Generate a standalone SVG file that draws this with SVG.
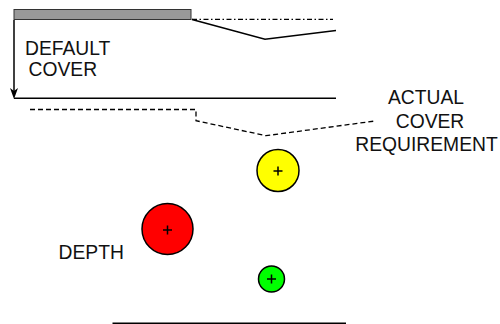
<svg xmlns="http://www.w3.org/2000/svg" width="500" height="324" viewBox="0 0 500 324">
<defs>
<style>
.t{font-family:"Liberation Sans",Arial,sans-serif;font-size:19.3px;fill:#111}
.ln{fill:none;stroke:#000;stroke-width:1.5}
.pipe{stroke:#000;stroke-width:1.5}
.plus{stroke:#000;stroke-width:1.5}
</style>
</defs>
<g id="road">
<rect x="14" y="9.5" width="177" height="10" fill="#999" stroke="#333" stroke-width="1"/>
</g>
<g id="connectors">
<line x1="14" y1="20" x2="14" y2="92" class="ln" stroke-width="1.3"/>
<path d="M10,88 L14,99 L18,88 L14,91 Z" fill="#000"/>
<line x1="14" y1="98.3" x2="336" y2="98.3" class="ln"/>
<line x1="192" y1="19.3" x2="333" y2="19.3" fill="none" stroke="#000" stroke-width="1.3" stroke-dasharray="5 2.5 1.5 2.5"/>
<polyline points="192,19.5 265,39.3 336,30.5" class="ln" stroke-width="2"/>
<polyline points="30,109.5 196,109.5 196,120.7 266,135.7 375,121" fill="none" stroke="#000" stroke-width="1.3" stroke-dasharray="5 3"/>
<line x1="112.5" y1="323.3" x2="346" y2="323.3" class="ln"/>
</g>
<g id="default-cover">
<text class="t" x="25" y="54.5">DEFAULT</text>
<text class="t" x="28.5" y="75.5">COVER</text>
</g>
<g id="actual-cover">
<text class="t" x="426" y="104.3" text-anchor="middle">ACTUAL</text>
<text class="t" x="430" y="128" text-anchor="middle">COVER</text>
<text class="t" x="426.5" y="150.7" text-anchor="middle">REQUIREMENT</text>
</g>
<g id="depth">
<text class="t" x="58.5" y="259.3">DEPTH</text>
</g>
<g id="pipe-yellow">
<circle cx="278" cy="170.5" r="21" fill="#ff0" class="pipe"/>
<path d="M273.5,171 h9 M278,166.5 v9" class="plus"/>
</g>
<g id="pipe-red">
<circle cx="167.5" cy="229" r="25.5" fill="#f00" class="pipe"/>
<path d="M163,230 h9 M167.5,225.5 v9" class="plus"/>
</g>
<g id="pipe-green">
<circle cx="271.5" cy="279" r="13" fill="#0f0" class="pipe"/>
<path d="M267,279 h9 M271.5,274.5 v9" class="plus"/>
</g>
</svg>
